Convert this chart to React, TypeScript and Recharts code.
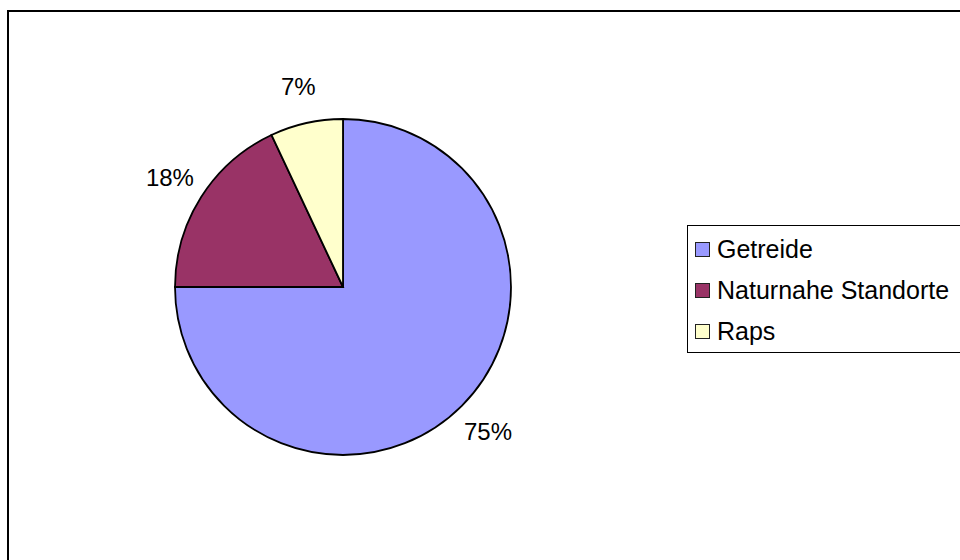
import { PieChart, Pie, Cell, Legend } from 'recharts';

const categories = ['Getreide', 'Naturnahe Standorte', 'Raps'];
const shares = [75, 18, 7];
const colors = ['#9999FF', '#993366', '#FFFFCC'];

const data = categories.map((name, i) => ({ name, value: shares[i] }));

const RAD = Math.PI / 180;

function renderLabel(props: any) {
  const { cx, cy, midAngle, outerRadius, value } = props;
  const r = outerRadius + 37;
  const x = cx + r * Math.cos(-midAngle * RAD);
  const y = cy + r * Math.sin(-midAngle * RAD);
  return (
    <text x={x} y={y} textAnchor="middle" dominantBaseline="central" fill="#000" fontSize={24}>
      {value}%
    </text>
  );
}

function LegendBox() {
  return (
    <div
      style={{
        border: '1px solid #000',
        background: '#fff',
        width: 290,
        padding: '3px 0 0 7px',
        fontSize: 25,
        lineHeight: '41px',
        color: '#000',
      }}
    >
      {categories.map((c, i) => (
        <div key={c} style={{ display: 'flex', alignItems: 'center', height: 41 }}>
          <span
            style={{
              display: 'inline-block',
              width: 13,
              height: 13,
              background: colors[i],
              border: '1.5px solid #222',
              marginRight: 7,
            }}
          />
          {c}
        </div>
      ))}
    </div>
  );
}

export default function App() {
  return (
    <div
      style={{
        position: 'fixed',
        left: 0,
        top: 0,
        width: 960,
        height: 560,
        overflow: 'hidden',
        background: '#fff',
        fontFamily: '"Liberation Sans", Arial, sans-serif',
      }}
    >
      <div
        style={{
          position: 'absolute',
          left: 7,
          top: 10,
          width: 1000,
          height: 600,
          borderLeft: '2px solid #000',
          borderTop: '2px solid #000',
        }}
      />
      <div style={{ position: 'absolute', left: 0, top: 0 }}>
        <PieChart width={960} height={560} margin={{ top: 0, right: 0, bottom: 0, left: 0 }}>
          <Pie
            data={data}
            dataKey="value"
            nameKey="name"
            cx={343}
            cy={287}
            outerRadius={168}
            startAngle={90}
            endAngle={-270}
            stroke="#000"
            strokeWidth={1.8}
            label={renderLabel}
            labelLine={false}
            isAnimationActive={false}
          >
            {data.map((d, i) => (
              <Cell key={d.name} fill={colors[i]} />
            ))}
          </Pie>
          <Legend
            layout="vertical"
            content={() => <LegendBox />}
            wrapperStyle={{ left: 687, top: 225, width: 'auto' }}
          />
        </PieChart>
      </div>
    </div>
  );
}
